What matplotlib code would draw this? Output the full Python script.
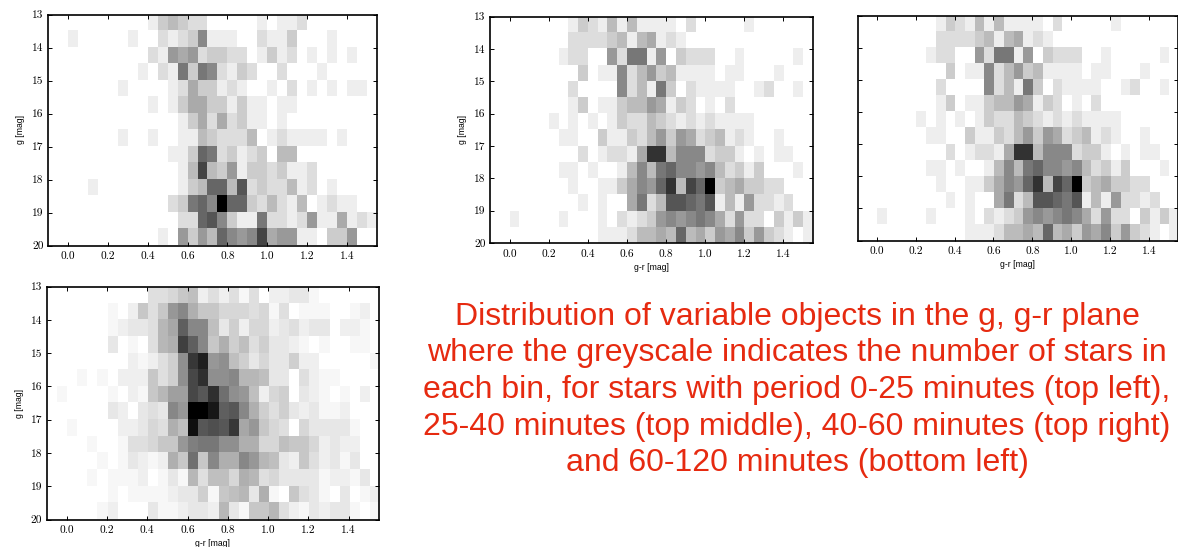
import numpy as np
import matplotlib
matplotlib.use('Agg')
import matplotlib.pyplot as plt

W, H = 1178, 547

# counts per bin, rows g=13..20 (step 0.5), columns g-r=-0.1..1.55 (step 0.05)
period_0_25 = [
    [0,0,0,0,0,0,0,0,0,0,1,3,4,3,2,2,0,0,0,0,0,1,0,1,1,2,0,0,0,0,0,0,0],
    [0,0,1,0,0,0,0,0,1,0,0,2,1,2,3,7,1,1,1,0,0,2,1,1,3,0,0,0,1,0,0,0,0],
    [0,0,0,0,0,0,0,0,0,0,2,1,6,5,6,2,3,3,2,2,0,1,3,1,2,0,1,0,1,0,1,0,0],
    [0,0,0,0,0,0,0,0,0,1,0,2,1,8,3,8,7,2,1,3,2,0,0,2,0,0,0,1,0,0,0,0,0],
    [0,0,0,0,0,0,0,1,0,0,0,0,1,2,5,3,3,1,2,1,0,0,1,0,2,0,1,0,1,0,1,1,0],
    [0,0,0,0,0,0,0,0,0,0,1,0,1,3,5,5,3,3,1,3,1,1,0,1,1,0,0,0,0,0,0,0,0],
    [0,0,0,0,0,0,0,0,0,0,0,0,0,1,3,5,2,5,2,3,1,1,0,1,0,0,0,0,0,0,0,0,0],
    [0,0,0,0,0,0,0,1,0,0,1,0,0,1,1,4,3,2,2,2,4,0,1,2,1,1,1,1,0,1,0,0,0],
    [0,0,0,0,0,0,0,0,0,0,0,0,1,1,3,9,8,2,3,1,2,3,0,4,4,0,0,0,0,0,0,0,0],
    [0,0,0,0,0,0,0,0,0,0,0,0,0,1,4,11,4,3,6,1,3,3,2,3,1,1,2,0,0,0,0,0,0],
    [0,0,0,0,1,0,0,0,0,0,0,0,0,1,3,4,9,9,4,10,2,3,2,2,4,1,2,0,1,0,0,0,0],
    [0,0,0,0,0,0,0,0,0,0,0,0,2,3,8,9,7,15,9,9,3,2,4,2,1,4,0,1,2,1,1,0,0],
    [0,0,0,0,0,0,0,0,0,0,0,0,0,2,2,9,10,7,3,1,1,8,2,2,1,2,6,1,1,5,1,2,1],
    [0,0,0,0,0,0,0,0,0,0,0,1,0,6,3,6,4,9,7,6,7,11,5,6,6,1,1,0,3,3,6,0,0],
]

period_25_40 = [
    [0,0,0,0,0,0,0,0,1,3,2,1,4,1,4,1,1,1,1,0,2,0,0,0,0,0,1,0,0,0,0,0,0],
    [0,0,0,0,0,0,0,0,2,2,2,2,3,4,1,4,5,1,2,1,0,0,0,0,0,0,0,0,0,0,0,0,0],
    [0,0,0,0,0,0,0,1,2,2,0,0,6,2,8,8,1,6,0,3,2,2,2,0,0,1,0,0,0,0,0,1,0],
    [0,0,0,0,0,0,0,0,0,3,0,1,1,7,2,4,6,3,4,1,1,1,1,0,1,1,0,0,0,1,0,0,0],
    [0,0,0,0,0,0,0,0,2,0,0,0,0,7,2,4,1,8,3,0,2,1,1,1,1,0,0,1,2,0,0,1,0],
    [0,0,0,0,0,0,0,0,1,3,0,1,1,3,4,4,6,5,1,3,2,0,1,0,2,0,0,0,0,0,0,0,0],
    [0,0,0,0,0,0,1,0,1,0,1,0,1,3,2,2,4,3,2,1,2,1,2,1,1,1,1,0,0,0,0,0,0],
    [0,0,0,0,0,0,0,1,1,0,0,3,1,1,3,2,4,6,3,6,5,2,3,4,1,2,1,0,0,1,0,0,0],
    [0,0,0,0,0,0,0,0,0,2,0,1,2,2,1,5,12,12,4,7,7,7,2,3,3,1,0,1,0,1,1,0,0],
    [0,0,0,0,0,0,0,1,1,0,1,0,0,1,4,7,4,8,9,7,7,6,7,4,2,3,1,3,0,0,0,1,0],
    [0,0,0,0,0,0,0,0,1,0,0,1,1,3,5,7,6,9,12,4,11,9,15,3,4,5,3,3,2,2,0,0,0],
    [0,0,0,0,0,0,0,0,0,1,0,1,0,0,5,8,2,4,10,10,9,8,10,1,4,1,6,2,2,1,2,0,0],
    [0,0,1,0,0,0,0,1,0,0,0,1,0,2,1,2,3,6,7,6,7,8,7,5,2,6,2,2,0,3,1,3,1],
    [0,0,0,0,0,0,0,0,0,0,0,1,1,1,2,4,4,5,4,9,4,5,3,6,5,7,3,6,3,2,1,0,1],
]

# top right panel looks the same as top middle in the source
period_40_60 = period_25_40

period_60_120 = [
    [0,0,0,0,0,0,0,0,0,0,4,4,5,7,8,2,4,2,4,1,4,0,2,2,3,3,1,0,0,0,0,0,0],
    [0,0,0,0,0,0,1,0,2,7,4,7,13,15,10,7,7,5,5,5,4,5,1,4,0,1,1,1,0,0,1,2,0],
    [0,0,0,0,0,0,1,2,3,3,4,9,11,20,15,15,8,3,6,2,5,5,2,3,4,2,3,3,0,2,2,1,0],
    [0,0,0,0,0,0,3,0,1,0,4,9,10,24,20,15,7,10,6,8,4,6,3,3,2,1,0,1,0,0,1,1,0],
    [0,0,0,0,0,0,0,0,2,1,2,4,6,14,25,28,13,14,8,6,3,5,3,3,6,2,2,0,0,0,0,0,1],
    [0,0,0,1,0,1,0,2,2,2,7,4,6,14,23,26,14,14,15,9,9,8,3,3,0,4,2,1,1,0,0,0,0],
    [0,1,0,0,0,0,1,0,2,1,7,9,12,12,23,21,26,18,14,13,8,2,5,6,0,3,2,1,0,1,0,2,0],
    [0,0,0,0,0,0,3,2,0,3,4,3,15,13,32,32,29,20,21,15,10,6,4,6,3,2,3,1,1,2,0,0,0],
    [0,0,1,0,0,0,0,2,2,3,5,4,10,8,30,21,22,21,25,11,13,7,5,4,0,5,3,3,3,3,1,0,0],
    [0,0,0,0,1,0,0,1,4,4,5,7,7,13,16,17,17,14,14,10,10,5,5,8,7,7,5,2,3,2,2,0,0],
    [0,0,0,0,0,1,0,1,3,2,1,2,10,7,18,7,15,10,10,15,13,9,8,3,2,7,4,2,3,1,3,0,0],
    [0,0,0,0,1,0,1,1,1,2,0,1,3,1,9,4,8,8,5,10,9,4,5,3,3,3,3,1,2,2,1,3,0],
    [0,0,0,0,0,0,1,0,1,1,1,1,2,3,3,6,1,7,8,9,3,10,1,0,7,4,3,1,0,3,0,1,2],
    [0,0,0,0,0,1,2,0,0,0,3,1,1,2,3,3,2,9,3,1,7,7,9,4,2,1,3,2,3,3,1,0,1],
]

x_ticks = [0.0, 0.2, 0.4, 0.6, 0.8, 1.0, 1.2, 1.4]
y_ticks = [13, 14, 15, 16, 17, 18, 19, 20]

caption = ("Distribution of variable objects in the g, g-r plane\n"
           "where the greyscale indicates the number of stars in\n"
           "each bin, for stars with period 0-25 minutes (top left),\n"
           "25-40 minutes (top middle), 40-60 minutes (top right)\n"
           "and 60-120 minutes (bottom left)")


def add_panel(fig, counts, box, show_ylabels=True, show_xlabel=False):
    # box in pixels: left, top, right, bottom
    left, top, right, bottom = box
    ax = fig.add_axes([left / W, 1 - bottom / H, (right - left) / W, (bottom - top) / H])
    ax.imshow(np.array(counts), cmap='gray_r', vmin=0, vmax=np.max(counts), aspect='auto',
              extent=(-0.1, 1.55, 20, 13), interpolation='nearest')
    ax.set_xticks(x_ticks)
    ax.set_xticklabels([f'{t:.1f}' for t in x_ticks], family='cmr10', fontsize=8.2)
    ax.set_yticks(y_ticks)
    if show_ylabels:
        ax.set_yticklabels([str(t) for t in y_ticks], family='cmr10', fontsize=8.2)
        ax.set_ylabel('g [mag]', fontsize=6.2, family='Liberation Sans', labelpad=5)
    else:
        ax.set_yticklabels([])
    if show_xlabel:
        ax.set_xlabel('g-r [mag]', fontsize=6.2, family='Liberation Sans', labelpad=3)
    ax.tick_params(direction='in', top=True, right=True, length=3, width=0.7)
    ax.tick_params(axis='x', pad=4.5)
    ax.tick_params(axis='y', pad=3)
    for spine in ax.spines.values():
        spine.set_linewidth(1.2)
    return ax


fig = plt.figure(figsize=(W / 100, H / 100), dpi=100)

add_panel(fig, period_0_25, (48, 14.5, 377, 245.5))
add_panel(fig, period_25_40, (490, 16.5, 812.5, 243), show_xlabel=True)
add_panel(fig, period_40_60, (857.5, 16, 1178, 240.5), show_ylabels=False, show_xlabel=True)
add_panel(fig, period_60_120, (46.5, 286.5, 379, 519.5), show_xlabel=True)

fig.text(797 / W, 1 - 390 / H, caption, color='#e62a10', fontsize=23, family='Liberation Sans',
         ha='center', va='center', linespacing=1.286)

fig.savefig('out.png', dpi=100)
